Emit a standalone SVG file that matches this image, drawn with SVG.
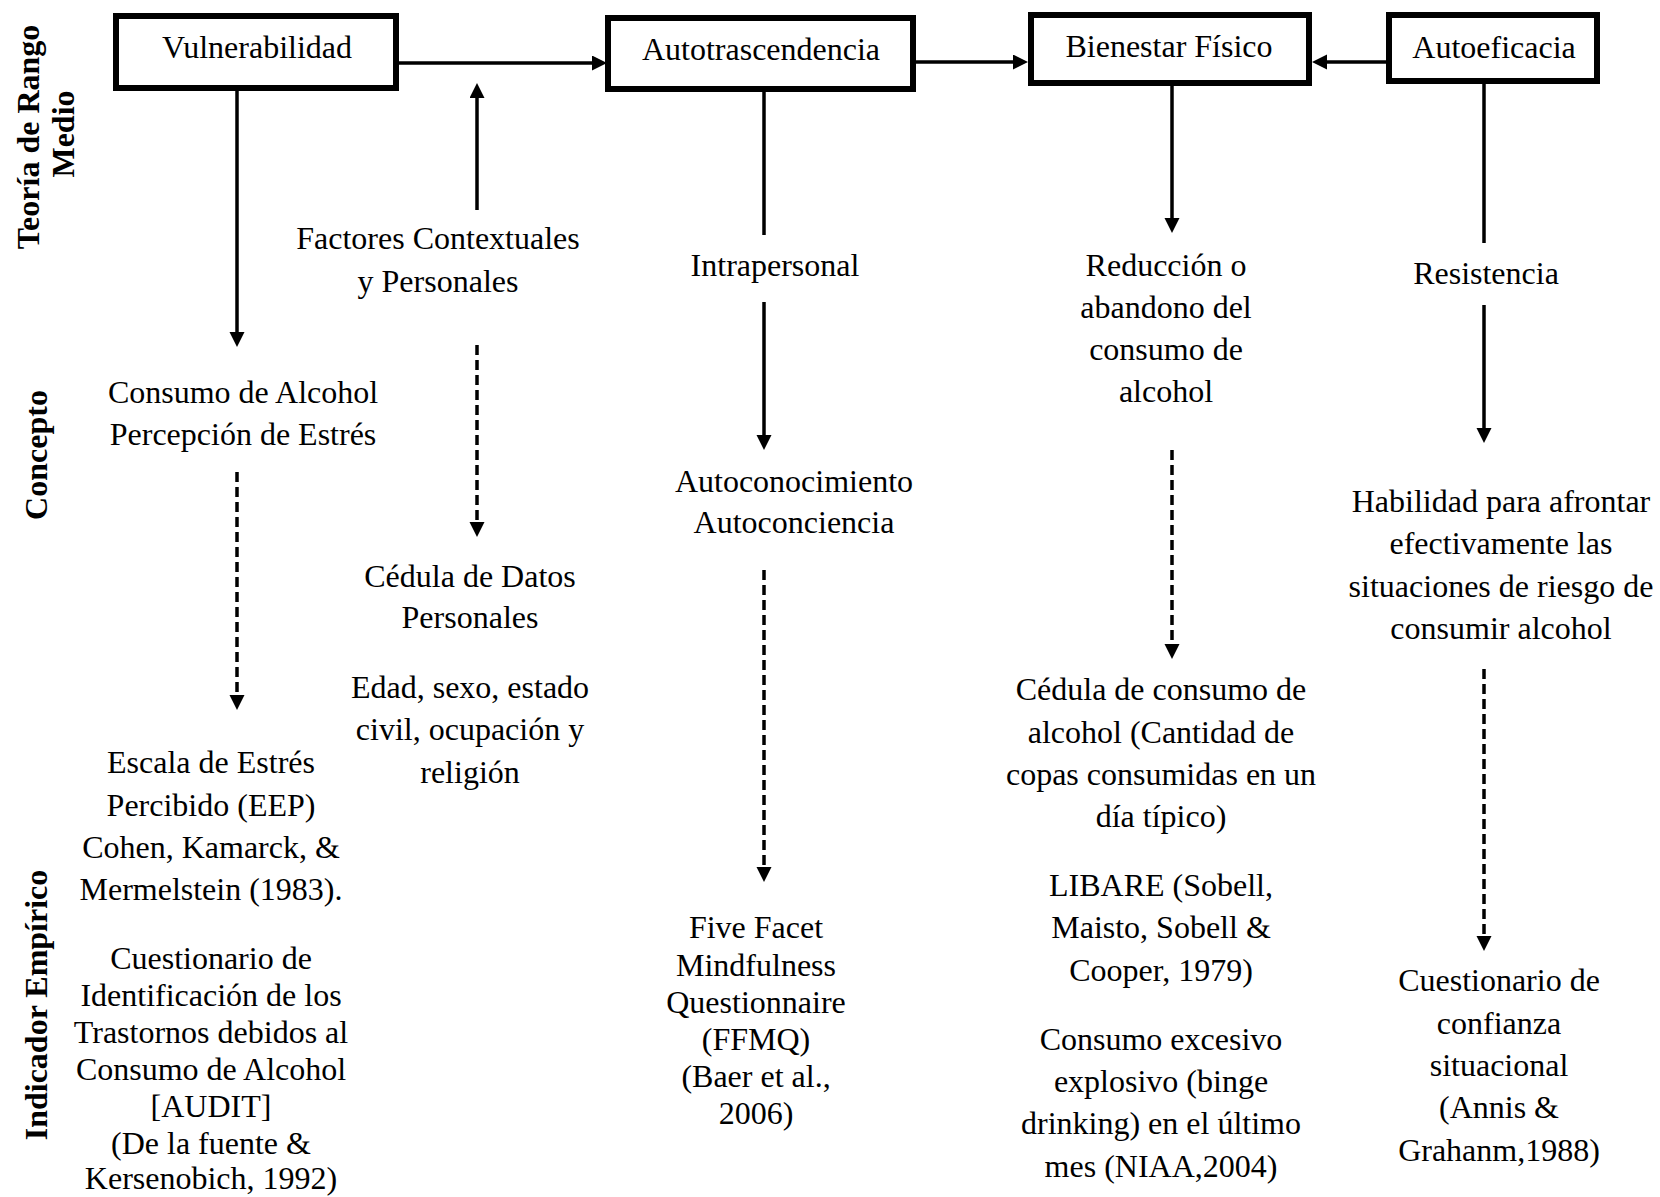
<svg xmlns="http://www.w3.org/2000/svg" width="1660" height="1197" viewBox="0 0 1660 1197">
<style>
  text { font-family: "Liberation Serif", "Times New Roman", serif; font-size: 32px; fill: #000; text-anchor: middle; }
  .side { font-weight: bold; }
  .box { fill: #fff; stroke: #000; stroke-width: 6; }
  .solid { fill: none; stroke: #000; stroke-width: 3.5; }
  .dash { fill: none; stroke: #000; stroke-width: 3.5; stroke-dasharray: 10 5; }
</style>
<defs>
  <marker id="ah" markerUnits="userSpaceOnUse" markerWidth="16" markerHeight="16" viewBox="0 0 16 16" refX="7" refY="7.5" orient="auto">
    <path d="M0,0 L15,7.5 L0,15 Z" fill="#000"/>
  </marker>
</defs>
<rect width="1660" height="1197" fill="#fff"/>

<g id="side-labels">
  <text class="side" transform="rotate(-90 39 137)" x="39" y="137">Teoría de Rango</text>
  <text class="side" transform="rotate(-90 74 134)" x="74" y="134">Medio</text>
  <text class="side" transform="rotate(-90 47 455)" x="47" y="455">Concepto</text>
  <text class="side" transform="rotate(-90 47 1005)" x="47" y="1005">Indicador Empírico</text>
</g>

<g id="connectors">
  <line class="solid" x1="399" y1="63" x2="599" y2="63" marker-end="url(#ah)"/>
  <line class="solid" x1="916" y1="62" x2="1020" y2="62" marker-end="url(#ah)"/>
  <line class="solid" x1="1386" y1="62" x2="1320" y2="62" marker-end="url(#ah)"/>
  <line class="solid" x1="477" y1="210" x2="477" y2="91" marker-end="url(#ah)"/>
  <line class="solid" x1="237" y1="91" x2="237" y2="339" marker-end="url(#ah)"/>
  <line class="dash" x1="477" y1="345" x2="477" y2="529" marker-end="url(#ah)"/>
  <line class="dash" x1="237" y1="472" x2="237" y2="702" marker-end="url(#ah)"/>
  <line class="solid" x1="764" y1="92" x2="764" y2="235"/>
  <line class="solid" x1="764" y1="302" x2="764" y2="442" marker-end="url(#ah)"/>
  <line class="dash" x1="764" y1="570" x2="764" y2="874" marker-end="url(#ah)"/>
  <line class="solid" x1="1172" y1="86" x2="1172" y2="225" marker-end="url(#ah)"/>
  <line class="dash" x1="1172" y1="450" x2="1172" y2="651" marker-end="url(#ah)"/>
  <line class="solid" x1="1484" y1="84" x2="1484" y2="243"/>
  <line class="solid" x1="1484" y1="305" x2="1484" y2="435" marker-end="url(#ah)"/>
  <line class="dash" x1="1484" y1="669" x2="1484" y2="943" marker-end="url(#ah)"/>
</g>

<g id="vulnerabilidad">
  <rect class="box" x="116" y="16" width="280" height="72"/>
  <text x="257" y="58">Vulnerabilidad</text>
</g>
<g id="autotrascendencia">
  <rect class="box" x="608" y="18" width="305" height="71"/>
  <text x="761" y="60">Autotrascendencia</text>
</g>
<g id="bienestar-fisico">
  <rect class="box" x="1031" y="15" width="278" height="68"/>
  <text x="1169" y="57">Bienestar Físico</text>
</g>
<g id="autoeficacia">
  <rect class="box" x="1389" y="15" width="208" height="66"/>
  <text x="1494" y="58">Autoeficacia</text>
</g>

<g id="factores">
  <text x="438" y="249">Factores Contextuales</text>
  <text x="438" y="292">y Personales</text>
</g>
<g id="consumo-percepcion">
  <text x="243" y="403">Consumo de Alcohol</text>
  <text x="243" y="445">Percepción de Estrés</text>
</g>
<g id="cedula-datos">
  <text x="470" y="587">Cédula de Datos</text>
  <text x="470" y="628">Personales</text>
  <text x="470" y="698">Edad, sexo, estado</text>
  <text x="470" y="740">civil, ocupación y</text>
  <text x="470" y="783">religión</text>
</g>
<g id="escala-audit">
  <text x="211" y="773">Escala de Estrés</text>
  <text x="211" y="816">Percibido (EEP)</text>
  <text x="211" y="858">Cohen, Kamarck, &amp;</text>
  <text x="211" y="900">Mermelstein (1983).</text>
  <text x="211" y="969">Cuestionario de</text>
  <text x="211" y="1006">Identificación de los</text>
  <text x="211" y="1043">Trastornos debidos al</text>
  <text x="211" y="1080">Consumo de Alcohol</text>
  <text x="211" y="1117">[AUDIT]</text>
  <text x="211" y="1154">(De la fuente &amp;</text>
  <text x="211" y="1189">Kersenobich, 1992)</text>
</g>
<g id="intrapersonal">
  <text x="775" y="276">Intrapersonal</text>
</g>
<g id="autoconocimiento">
  <text x="794" y="492">Autoconocimiento</text>
  <text x="794" y="533">Autoconciencia</text>
</g>
<g id="ffmq">
  <text x="756" y="938">Five Facet</text>
  <text x="756" y="976">Mindfulness</text>
  <text x="756" y="1013">Questionnaire</text>
  <text x="756" y="1050">(FFMQ)</text>
  <text x="756" y="1087">(Baer et al.,</text>
  <text x="756" y="1124">2006)</text>
</g>
<g id="reduccion">
  <text x="1166" y="276">Reducción o</text>
  <text x="1166" y="318">abandono del</text>
  <text x="1166" y="360">consumo de</text>
  <text x="1166" y="402">alcohol</text>
</g>
<g id="cedula-consumo">
  <text x="1161" y="700">Cédula de consumo de</text>
  <text x="1161" y="743">alcohol (Cantidad de</text>
  <text x="1161" y="785">copas consumidas en un</text>
  <text x="1161" y="827">día típico)</text>
  <text x="1161" y="896">LIBARE (Sobell,</text>
  <text x="1161" y="938">Maisto, Sobell &amp;</text>
  <text x="1161" y="981">Cooper, 1979)</text>
  <text x="1161" y="1050">Consumo excesivo</text>
  <text x="1161" y="1092">explosivo (binge</text>
  <text x="1161" y="1134">drinking) en el último</text>
  <text x="1161" y="1177">mes (NIAA,2004)</text>
</g>
<g id="resistencia">
  <text x="1486" y="284">Resistencia</text>
</g>
<g id="habilidad">
  <text x="1501" y="512">Habilidad para afrontar</text>
  <text x="1501" y="554">efectivamente las</text>
  <text x="1501" y="597">situaciones de riesgo de</text>
  <text x="1501" y="639">consumir alcohol</text>
</g>
<g id="cuestionario-confianza">
  <text x="1499" y="991">Cuestionario de</text>
  <text x="1499" y="1034">confianza</text>
  <text x="1499" y="1076">situacional</text>
  <text x="1499" y="1118">(Annis &amp;</text>
  <text x="1499" y="1161">Grahanm,1988)</text>
</g>
</svg>
